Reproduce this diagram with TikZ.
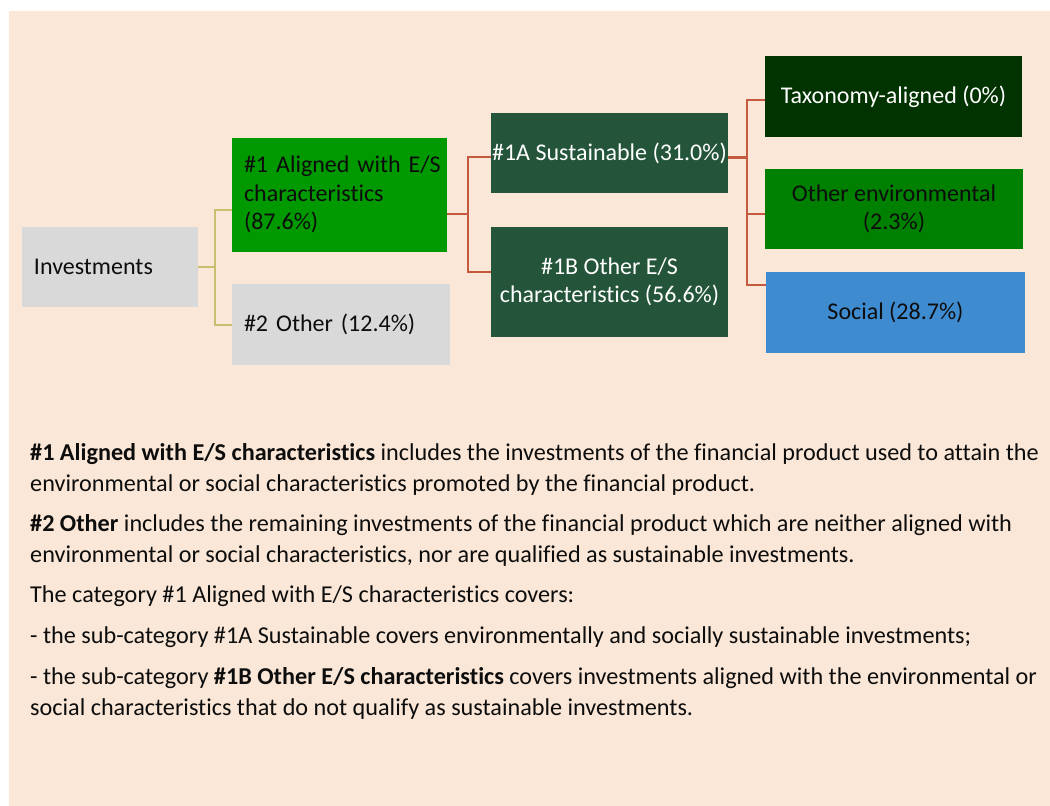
\documentclass[tikz,border=0pt]{standalone}
\usepackage{fontspec}
\setmainfont{Carlito}[Ligatures=NoCommon]
\definecolor{bgpeach}{HTML}{FAE7D7}
\definecolor{boxgray}{HTML}{D9D9D9}
\definecolor{esgreen}{HTML}{009900}
\definecolor{subgreen}{HTML}{24553A}
\definecolor{taxgreen}{HTML}{003300}
\definecolor{envgreen}{HTML}{008000}
\definecolor{socblue}{HTML}{3F8BD0}
\definecolor{goldline}{HTML}{C9BF6F}
\definecolor{redline}{HTML}{C55A40}
\definecolor{inktext}{HTML}{0D0D0D}
\begin{document}
\begin{tikzpicture}[x=1pt, y=-1pt,
    every node/.style={font=\fontsize{24}{28.5}\selectfont, text=inktext},
    lbox/.style={align=left, inner xsep=12pt, inner ysep=0pt},
    cbox/.style={align=center, inner xsep=1pt, inner ysep=0pt},
    txt/.style={align=left, anchor=base west, inner sep=0pt,
      font=\fontsize{24.2}{31}\selectfont},
    gold/.style={draw=goldline, line width=2pt},
    red/.style={draw=redline, line width=2pt},
  ]
  \useasboundingbox (0,0) rectangle (1050,806);
  \fill[bgpeach] (9,11) rectangle (1050,806);

  % boxes
  \node[lbox, fill=boxgray, text width=152pt, minimum height=80pt] (inv) at (110,267) {Investments};
  \node[lbox, fill=esgreen, text width=191pt, minimum height=114pt] (al) at (339.5,194.5) {\mbox{\#1 Aligned with E/S}\\characteristics\\(87.6\%)};
  \node[lbox, fill=boxgray, text width=194pt, minimum height=81pt] (oth) at (341,324.5) {\#2 Other (12.4\%)};
  \node[cbox, fill=subgreen, text=white, minimum width=237pt, minimum height=80pt] (s1a) at (609.5,153) {\#1A Sustainable (31.0\%)};
  \node[cbox, fill=subgreen, text=white, minimum width=237pt, minimum height=110pt] (s1b) at (609.5,282) {\#1B Other E/S\\characteristics (56.6\%)};
  \node[cbox, fill=taxgreen, text=white, minimum width=257pt, minimum height=81pt] (tax) at (893.5,96.5) {Taxonomy-aligned (0\%)};
  \node[cbox, fill=envgreen, minimum width=258pt, minimum height=80pt] (env) at (894,209) {Other environmental\\(2.3\%)};
  \node[cbox, fill=socblue, minimum width=259pt, minimum height=81pt] (soc) at (895.5,312.5) {Social (28.7\%)};

  % connectors
  \coordinate (j1) at (215,267);
  \coordinate (j2) at (468,214);
  \coordinate (j3) at (747,157);
  \draw[gold] (inv.east) -- (j1) |- ([yshift=-15.5pt]al.west);
  \draw[gold] (j1) |- (oth.west);
  \draw[red] ([yshift=-19.5pt]al.east) -- (j2) |- ([yshift=-4pt]s1a.west);
  \draw[red] (j2) |- ([yshift=10pt]s1b.west);
  \draw[red, line width=3pt] ([yshift=-4pt]s1a.east) -- (j3);
  \draw[red] (j3) |- ([yshift=-3.5pt]tax.west);
  \draw[red] (j3) |- ([yshift=-5pt]env.west);
  \draw[red] (j3) |- ([yshift=27.5pt]soc.west);

  % notes (base = last line)
  \node[txt] (p1) at (30,491) {\textbf{\#1 Aligned with E/S characteristics} includes the investments of the financial product used to attain the\\environmental or social characteristics promoted by the financial product.};
  \node[txt] (p2) at (30,562) {\textbf{\#2 Other} includes the remaining investments of the financial product which are neither aligned with\\environmental or social characteristics, nor are qualified as sustainable investments.};
  \node[txt] (p3) at (30,602) {The category \#1 Aligned with E/S characteristics covers:};
  \node[txt] (p4) at (30,643) {- the sub-category \#1A Sustainable covers environmentally and socially sustainable investments;};
  \node[txt] (p5) at (30,715) {- the sub-category \textbf{\#1B Other E/S characteristics} covers investments aligned with the environmental or\\social characteristics that do not qualify as sustainable investments.};
\end{tikzpicture}
\end{document}
